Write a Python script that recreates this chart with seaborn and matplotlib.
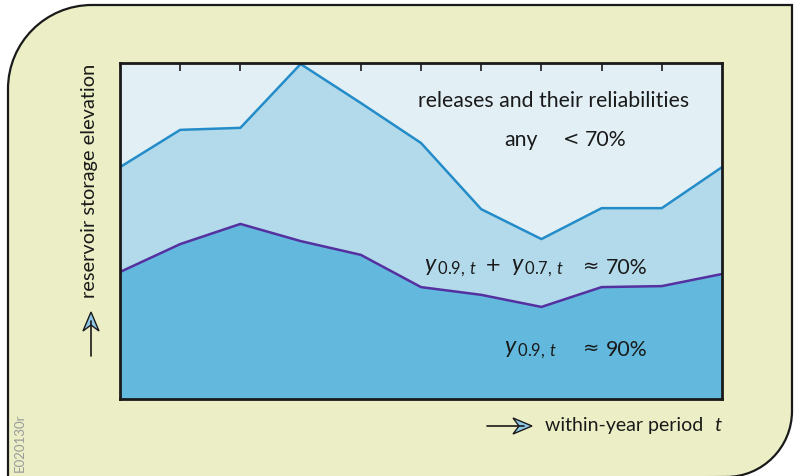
import numpy as np
import pandas as pd
import matplotlib
matplotlib.use("Agg")
import matplotlib.pyplot as plt
from matplotlib.path import Path
from matplotlib.patches import PathPatch, Polygon
import seaborn as sns

# ---- data ----
periods = list(range(11))
upper_storage = [69.0, 80.1, 80.7, 99.7, 88.1, 76.2, 56.5, 47.6, 56.8, 56.8, 69.0]
lower_storage = [37.8, 46.1, 52.1, 47.0, 42.9, 33.3, 31.0, 27.4, 33.3, 33.6, 37.2]

df = pd.DataFrame({"t": periods, "upper": upper_storage, "lower": lower_storage})

sns.set_theme(style="white")
plt.rcParams["font.family"] = ["Lato", "DejaVu Sans"]
plt.rcParams["mathtext.fontset"] = "custom"
plt.rcParams["mathtext.rm"] = "Lato"
plt.rcParams["mathtext.it"] = "Lato:italic"

W, H = 796, 477
fig = plt.figure(figsize=(W / 100, H / 100), dpi=100)
fig.patch.set_facecolor("white")

# overlay axes in pixel coordinates
ax0 = fig.add_axes([0, 0, 1, 1], zorder=0)
ax0.set_xlim(0, W)
ax0.set_ylim(H, 0)
ax0.axis("off")

# rounded frame
R1, R2 = 84, 66
L, T, Rr, B = 8, 6, 792, 478
k = 0.5523
verts = [
    (L, H + 5), (L, T + R1),
    (L, T + R1 - k * R1), (L + R1 - k * R1, T), (L + R1, T),
    (Rr, T), (Rr, B - R2),
    (Rr, B - R2 + k * R2), (Rr - R2 + k * R2, B), (Rr - R2, B),
    (L, H + 5), (L, H + 5),
]
codes = [Path.MOVETO, Path.LINETO,
         Path.CURVE4, Path.CURVE4, Path.CURVE4,
         Path.LINETO, Path.LINETO,
         Path.CURVE4, Path.CURVE4, Path.CURVE4,
         Path.LINETO, Path.CLOSEPOLY]
ax0.add_patch(PathPatch(Path(verts, codes), facecolor="#ecefc6",
                        edgecolor="#1a1a1a", lw=1.6))

# main axes
ax = fig.add_axes([120 / W, 1 - 400 / H, 602 / W, 336 / H], zorder=2)
ax.set_facecolor("#e2f0f6")
ax.fill_between(df["t"], df["upper"], 0, color="#b2daea", lw=0)
ax.fill_between(df["t"], df["lower"], 0, color="#62b9dd", lw=0)
sns.lineplot(data=df, x="t", y="upper", ax=ax, color="#248cc8", lw=1.8)
sns.lineplot(data=df, x="t", y="lower", ax=ax, color="#5430a0", lw=1.8)
ax.set_xlim(0, 10)
ax.set_ylim(0, 100)
ax.set_xticks(range(1, 10))
ax.set_yticks([])
ax.set_xticklabels([])
ax.set_xlabel("")
ax.set_ylabel("")
ax.tick_params(axis="x", direction="in", length=6, width=1.2, color="#1a1a1a",
               top=True, bottom=True, labelbottom=False)
for s in ax.spines.values():
    s.set_color("#1a1a1a")
    s.set_linewidth(2)
    s.set_visible(True)

tr = ax0.transData
tc = "#1a1a1a"
fs = 15.3
sym = ["DejaVu Sans"]
ax.text(554, 101, "releases and their reliabilities", transform=tr, ha="center",
        va="center", fontsize=fs, color=tc, clip_on=False)
ax.text(521, 140, "any", transform=tr, ha="center", va="center", fontsize=fs, color=tc)
ax.text(571, 139, "<", transform=tr, ha="center", va="center", fontsize=14, color=tc, family=sym)
ax.text(585, 140, "70%", transform=tr, ha="left", va="center", fontsize=fs, color=tc)

mfs = 17
ax.text(424, 268, r"$y_{\,0.9,\,t}$", transform=tr, ha="left", va="center", fontsize=mfs, color=tc)
ax.text(493, 266, "+", transform=tr, ha="center", va="center", fontsize=14, color=tc, family=sym)
ax.text(511, 268, r"$y_{\,0.7,\,t}$", transform=tr, ha="left", va="center", fontsize=mfs, color=tc)
ax.text(591, 266, "≈", transform=tr, ha="center", va="center", fontsize=14, color=tc, family=sym)
ax.text(606, 268, "70%", transform=tr, ha="left", va="center", fontsize=fs, color=tc)
ax.text(504, 350, r"$y_{\,0.9,\,t}$", transform=tr, ha="left", va="center", fontsize=mfs, color=tc)
ax.text(591, 348, "≈", transform=tr, ha="center", va="center", fontsize=14, color=tc, family=sym)
ax.text(606, 350, "90%", transform=tr, ha="left", va="center", fontsize=fs, color=tc)

# axis labels
ax0.text(90, 181, "reservoir storage elevation", rotation=90, ha="center", va="center",
         fontsize=14.4, color=tc)
ax0.text(545, 426, "within-year period", ha="left", va="center", fontsize=14, color=tc)
ax0.text(714, 426, "t", ha="left", va="center", fontsize=14.5, color=tc, style="italic")
ax0.text(20, 443, "E020130r", rotation=90, ha="center", va="center", fontsize=9.5,
         color="#9a9a9a")

# arrows
ax0.plot([91, 91], [357, 322], color=tc, lw=1.2)
ax0.add_patch(Polygon([(91, 313), (99, 332), (91, 326), (83, 332)], closed=True,
                      facecolor="#8ec8e6", edgecolor=tc, lw=1.0))
ax0.plot([487, 524], [427, 427], color=tc, lw=1.2)
ax0.add_patch(Polygon([(532, 427), (513, 435), (519, 427), (513, 419)], closed=True,
                      facecolor="#8ec8e6", edgecolor=tc, lw=1.0))

fig.savefig("out.png", dpi=100)
